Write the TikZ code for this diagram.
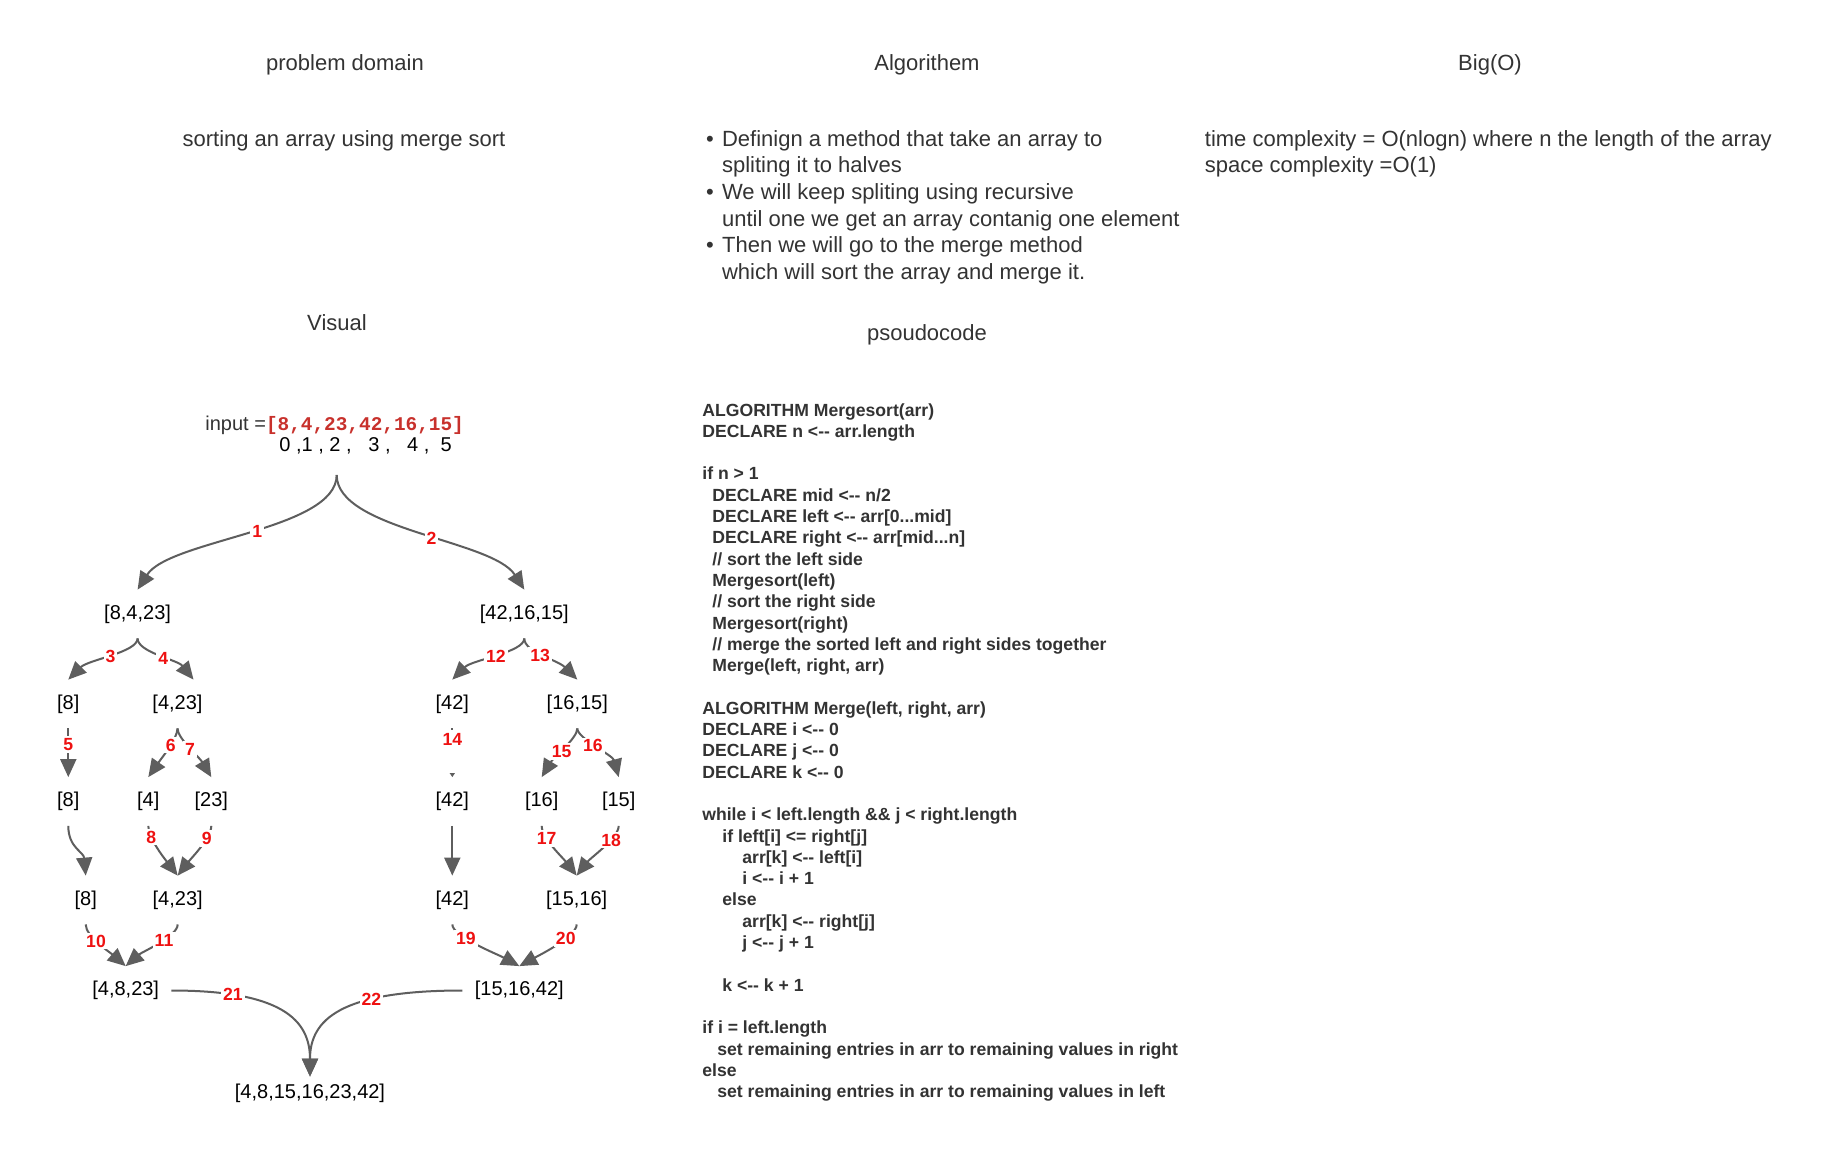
\documentclass[tikz,border=0pt]{standalone}
\usepackage{fontspec}
\setmainfont{Liberation Sans}
\newfontfamily\monofont{Liberation Mono}
\usetikzlibrary{arrows.meta,calc}
\definecolor{txt}{HTML}{333333}
\definecolor{ln}{HTML}{5E5E5E}
\definecolor{lblred}{HTML}{EE1111}
\definecolor{codered}{HTML}{C8312C}
\newcommand\larr{<-\kern0pt-}
\newcommand\codeln[3]{\node[code] (code#1) at ({702+#2},{416+21.3*#1}) {#3};}
\begin{document}
\begin{tikzpicture}[x=0.5pt,y=-0.5pt,
  hdr/.style={anchor=base, font=\fontsize{11}{13}\selectfont, text=txt, inner sep=0pt},
  body/.style={anchor=base west, font=\fontsize{11}{13}\selectfont, text=txt, inner sep=0pt},
  code/.style={anchor=base west, font=\fontsize{8.8}{10.5}\selectfont\bfseries, text=txt, inner sep=0pt},
  tn/.style={font=\fontsize{10}{12}\selectfont, text=black, minimum height=24pt, inner xsep=6pt, inner ysep=0pt, text height=7.2pt, text depth=2.2pt},
  conn/.style={draw=ln, line width=1pt, -{Triangle[length=9pt,width=8pt]}},
  lbl/.style={font=\fontsize{8.8}{10}\selectfont\bfseries, text=lblred, fill=white, inner sep=1pt},
]
\fill[white] (0,0) rectangle (1828,1158);
\useasboundingbox (0,0) rectangle (1828,1158);

% headers
\node[hdr] (hpd) at (345,70) {problem domain};
\node[hdr] (halg) at (927,70) {Algorithem};
\node[hdr] (hbig) at (1490,70) {Big(O)};
\node[hdr] (hvis) at (337,330.5) {Visual};
\node[hdr] (hps) at (927,340) {psoudocode};

% problem domain
\node[hdr] (pd) at (344,146) {sorting an array using merge sort};

% algorithm bullets
\node[hdr] (b1) at (710,146) {\textbullet};
\node[body] (t1) at (721.7,146) {Definign a method that take an array to};
\node[body] (t2) at (721.7,172.7) {spliting it to halves};
\node[hdr] (b2) at (710,199.4) {\textbullet};
\node[body] (t3) at (721.7,199.4) {We will keep spliting using recursive};
\node[body] (t4) at (721.7,226.1) {until one we get an array contanig one element};
\node[hdr] (b3) at (710,252.8) {\textbullet};
\node[body] (t5) at (721.7,252.8) {Then we will go to the merge method};
\node[body] (t6) at (721.7,279.5) {which will sort the array and merge it.};

% big O
\node[body] (o1) at (1204.5,146) {time complexity = O(nlogn) where n the length of the array};
\node[body] (o2) at (1204.5,172.7) {space complexity =O(1)};

% pseudocode
\codeln{0}{0}{ALGORITHM Mergesort(arr)}
\codeln{1}{0}{DECLARE n \larr{} arr.length}
\codeln{3}{0}{if n > 1}
\codeln{4}{10}{DECLARE mid \larr{} n/2}
\codeln{5}{10}{DECLARE left \larr{} arr[0...mid]}
\codeln{6}{10}{DECLARE right \larr{} arr[mid...n]}
\codeln{7}{10}{// sort the left side}
\codeln{8}{10}{Mergesort(left)}
\codeln{9}{10}{// sort the right side}
\codeln{10}{10}{Mergesort(right)}
\codeln{11}{10}{// merge the sorted left and right sides together}
\codeln{12}{10}{Merge(left, right, arr)}
\codeln{14}{0}{ALGORITHM Merge(left, right, arr)}
\codeln{15}{0}{DECLARE i \larr{} 0}
\codeln{16}{0}{DECLARE j \larr{} 0}
\codeln{17}{0}{DECLARE k \larr{} 0}
\codeln{19}{0}{while i < left.length \&\& j < right.length}
\codeln{20}{20}{if left[i] <= right[j]}
\codeln{21}{40}{arr[k] \larr{} left[i]}
\codeln{22}{40}{i \larr{} i + 1}
\codeln{23}{20}{else}
\codeln{24}{40}{arr[k] \larr{} right[j]}
\codeln{25}{40}{j \larr{} j + 1}
\codeln{27}{20}{k \larr{} k + 1}
\codeln{29}{0}{if i = left.length}
\codeln{30}{15}{set remaining entries in arr to remaining values in right}
\codeln{31}{0}{else}
\codeln{32}{15}{set remaining entries in arr to remaining values in left}

% input
\node[anchor=base west, inner sep=0pt] (inp) at (205,430) {{\fontsize{10}{12}\selectfont\color{txt}input =}{\monofont\bfseries\fontsize{9.7}{12}\selectfont\color{codered}[8,4,23,42,16,15]}};
\node[anchor=base west, inner sep=0pt, font=\fontsize{10}{12}\selectfont] (idx) at (279,451.7) {0 ,1 , 2 ,\ \ \ 3 ,\ \ \ 4 ,\ \ 5};
\coordinate (root) at (336.7,475);

% tree nodes
\node[tn] (a1) at (137.6,614) {[8,4,23]};
\node[tn] (bb1) at (524.3,614) {[42,16,15]};
\node[tn] (a2) at (68.3,704) {[8]};
\node[tn] (a3) at (177.5,704) {[4,23]};
\node[tn] (bb2) at (452.3,704) {[42]};
\node[tn] (bb3) at (577.3,704) {[16,15]};
\node[tn] (c1) at (68.3,801.5) {[8]};
\node[tn] (c2) at (148.3,801.5) {[4]};
\node[tn] (c3) at (211.3,801.5) {[23]};
\node[tn] (d1) at (452.3,801.5) {[42]};
\node[tn] (d2) at (541.7,801.5) {[16]};
\node[tn] (d3) at (618.7,801.5) {[15]};
\node[tn] (e1) at (85.7,900) {[8]};
\node[tn] (e2) at (177.7,900) {[4,23]};
\node[tn] (f1) at (452.3,900) {[42]};
\node[tn] (f2) at (576.7,900) {[15,16]};
\node[tn] (g1) at (125.7,990.5) {[4,8,23]};
\node[tn] (g2) at (519.3,990.5) {[15,16,42]};
\node[tn, minimum height=16pt] (h) at (310,1093) {[4,8,15,16,23,42]};

% connectors
\draw[conn] (root) .. controls +(0,55) and +(32,-50) .. (a1.north) node[lbl,pos=0.47] (l1) {1};
\draw[conn] (root) .. controls +(0,55) and +(-32,-50) .. (bb1.north) node[lbl,pos=0.55] (l2) {2};

\draw[conn] (a1.south) .. controls +(0,14) and +(20,-20) .. (a2.north) node[lbl,pos=0.5] (l3) {3};
\draw[conn] (a1.south) .. controls +(0,14) and +(-16,-20) .. ($(a3.north)+(16,0)$) node[lbl,pos=0.55] (l4) {4};
\draw[conn] (bb1.south) .. controls +(0,14) and +(20,-20) .. (bb2.north) node[lbl,pos=0.5] (l12) {12};
\draw[conn] (bb1.south) .. controls +(0,14) and +(-20,-20) .. (bb3.north) node[lbl,pos=0.45] (l13) {13};

\draw[conn] (a2.south) -- (c1.north) node[lbl,pos=0.33] (l5) {5};
\path (bb2.south) -- (d1.north) node[lbl,pos=0.22] (l14) {14};
\draw[ln, line width=1pt] (bb2.south) -- ++(0,2);
\draw[ln, line width=0.6pt, -{Triangle[length=2pt,width=2.5pt]}] ($(d1.north)+(0,-4)$) -- (d1.north);

\draw[conn] (a3.south) .. controls +(0,10) and +(14,-20) .. (c2.north) node[lbl,pos=0.42] (l6) {6};
\draw[conn] (a3.south) .. controls +(0,10) and +(-12,-20) .. (c3.north) node[lbl,pos=0.5] (l7) {7};
\draw[conn] (bb3.south) .. controls +(0,10) and +(12,-20) .. (d2.north) node[lbl,pos=0.55] (l15) {15};
\draw[conn] (bb3.south) .. controls +(0,10) and +(-6,-22) .. (d3.north) node[lbl,pos=0.45] (l16) {16};

\draw[conn] (c1.south) .. controls +(0,22) and +(-2,-24) .. (e1.north);
\draw[conn] (c2.south) .. controls +(0,12) and +(-14,-18) .. (e2.north) node[lbl,pos=0.27] (l8) {8};
\draw[conn] (c3.south) .. controls +(0,12) and +(14,-18) .. (e2.north) node[lbl,pos=0.3] (l9) {9};
\draw[conn] (d1.south) -- (f1.north);
\draw[conn] (d2.south) .. controls +(0,12) and +(-14,-18) .. (f2.north) node[lbl,pos=0.3] (l17) {17};
\draw[conn] (d3.south) .. controls +(0,12) and +(14,-18) .. (f2.north) node[lbl,pos=0.33] (l18) {18};

\draw[conn] (e1.south) .. controls +(0,12) and +(-16,-14) .. (g1.north) node[lbl,pos=0.42] (l10) {10};
\draw[conn] (e2.south) .. controls +(0,12) and +(16,-14) .. (g1.north) node[lbl,pos=0.4] (l11) {11};
\draw[conn] (f1.south) .. controls +(0,12) and +(-22,-12) .. (g2.north) node[lbl,pos=0.35] (l19) {19};
\draw[conn] (f2.south) .. controls +(0,12) and +(22,-12) .. (g2.north) node[lbl,pos=0.35] (l20) {20};

\draw[conn] (g1.east) .. controls +(110,0) and +(0,-57) .. (h.north) node[lbl,pos=0.22] (l21) {21};
\draw[conn] (g2.west) .. controls +(-122,0) and +(0,-57) .. (h.north) node[lbl,pos=0.32] (l22) {22};
\end{tikzpicture}
\end{document}
